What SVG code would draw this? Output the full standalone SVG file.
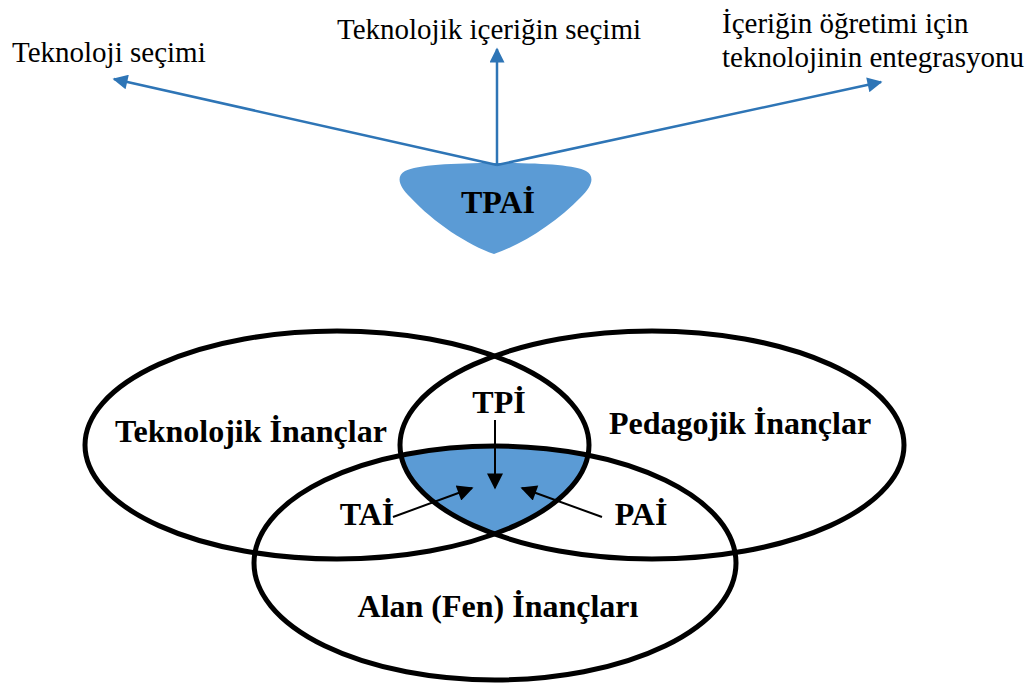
<svg xmlns="http://www.w3.org/2000/svg" width="1031" height="684" viewBox="0 0 1031 684">
  <style>
    .lbl { font-family: "Liberation Serif", "Times New Roman", serif; font-size: 29px; fill: #000; }
    .bold { font-family: "Liberation Serif", "Times New Roman", serif; font-size: 32px; font-weight: bold; fill: #000; text-anchor: middle; }
    .ring { fill: none; stroke: #000; stroke-width: 5; }
    .blue-link { stroke: #2e75b6; stroke-width: 2.5; fill: none; marker-end: url(#blueHead); }
    .black-link { stroke: #000; stroke-width: 2; fill: none; marker-end: url(#blackHead); }
  </style>
  <defs>
    <marker id="blueHead" viewBox="0 0 10 10" refX="9" refY="5" markerWidth="7" markerHeight="6" markerUnits="strokeWidth" orient="auto">
      <path d="M0,0 L10,5 L0,10 Z" fill="#2e75b6"/>
    </marker>
    <marker id="blackHead" viewBox="0 0 10 10" refX="9" refY="5" markerWidth="10" markerHeight="8" markerUnits="strokeWidth" orient="auto">
      <path d="M0,0 L10,5 L0,10 Z" fill="#000"/>
    </marker>
    <clipPath id="clipTech"><ellipse cx="337" cy="445" rx="252" ry="114"/></clipPath>
    <clipPath id="clipPed"><ellipse cx="652" cy="445" rx="252" ry="114"/></clipPath>
  </defs>

  <rect width="1031" height="684" fill="#fff"/>

  <!-- shaded core shared by all three sets -->
  <g id="core">
    <g clip-path="url(#clipTech)">
      <g clip-path="url(#clipPed)">
        <ellipse cx="495" cy="563" rx="241" ry="117" fill="#5b9bd5"/>
      </g>
    </g>
  </g>

  <g id="tech-beliefs">
    <ellipse class="ring" cx="337" cy="445" rx="252" ry="114"/>
    <text class="bold" x="251" y="442">Teknolojik İnançlar</text>
  </g>
  <g id="ped-beliefs">
    <ellipse class="ring" cx="652" cy="445" rx="252" ry="114"/>
    <text class="bold" x="740" y="434">Pedagojik İnançlar</text>
  </g>
  <g id="content-beliefs">
    <ellipse class="ring" cx="495" cy="563" rx="241" ry="117"/>
    <text class="bold" x="498" y="617">Alan (Fen) İnançları</text>
  </g>

  <g id="tpi"><text class="bold" x="499" y="413">TPİ</text></g>
  <g id="tai"><text class="bold" x="367" y="525">TAİ</text></g>
  <g id="pai"><text class="bold" x="641" y="525">PAİ</text></g>

  <g id="tpai">
    <path d="M496,163 C540,163 575,165 586,171 C596,177 591,187 581,197 C556,223 521,245 494,254 C468,245 434,223 410,197 C400,187 395,177 405,171 C417,165 452,163 496,163 Z" fill="#5b9bd5"/>
    <text class="bold" x="498" y="213">TPAİ</text>
  </g>

  <g id="label-tech-choice"><text class="lbl" x="12" y="62">Teknoloji seçimi</text></g>
  <g id="label-content-choice"><text class="lbl" x="337" y="39">Teknolojik içeriğin seçimi</text></g>
  <g id="label-integration">
    <text class="lbl" x="722" y="33">İçeriğin öğretimi için</text>
    <text class="lbl" x="722" y="67">teknolojinin entegrasyonu</text>
  </g>

  <g id="connectors">
    <line class="blue-link" x1="497" y1="165" x2="114" y2="79"/>
    <line class="blue-link" x1="497" y1="165" x2="497" y2="49"/>
    <line class="blue-link" x1="497" y1="165" x2="881" y2="82"/>
    <line class="black-link" x1="495" y1="420" x2="495" y2="488"/>
    <line class="black-link" x1="393" y1="517" x2="472" y2="488"/>
    <line class="black-link" x1="602" y1="517" x2="522" y2="488"/>
  </g>
</svg>
